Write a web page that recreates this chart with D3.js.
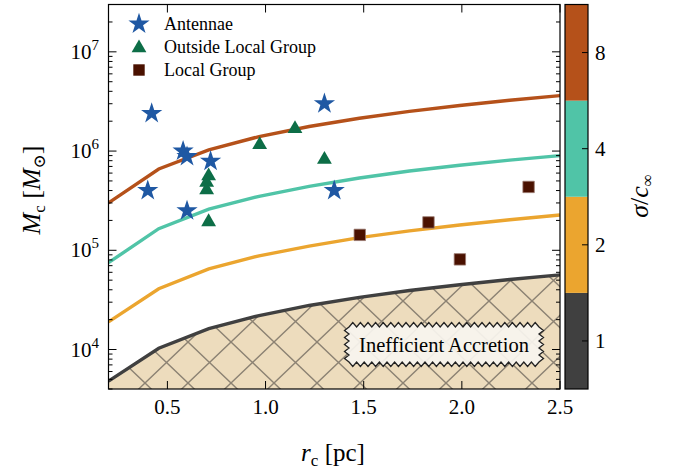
<!DOCTYPE html>
<html><head><meta charset="utf-8">
<script src="https://cdn.jsdelivr.net/npm/d3@7"></script>
<style>
body{margin:0;background:#fff;}
text{font-family:"Liberation Serif","DejaVu Serif",serif;fill:#000;}
</style></head>
<body><svg id="c" width="680" height="471"></svg>
<script>
// ---------- data ----------
const rGrid = [0.2, 0.456, 0.711, 0.967, 1.222, 1.478, 1.733, 1.989, 2.244, 2.5];
const sigmaLevels = [1, 2, 4, 8];
const curveS1 = [4.8e3, 1.03e4, 1.62e4, 2.2e4, 2.78e4, 3.35e4, 3.93e4, 4.5e4, 5.07e4, 5.65e4];
const curveS2 = [1.9e4, 4.1e4, 6.5e4, 8.8e4, 1.1e5, 1.34e5, 1.57e5, 1.8e5, 2.03e5, 2.27e5];
const curveS4 = [7.5e4, 1.65e5, 2.6e5, 3.5e5, 4.4e5, 5.35e5, 6.3e5, 7.2e5, 8.1e5, 9.0e5];
const curveS8 = [3.0e5, 6.6e5, 1.03e6, 1.40e6, 1.77e6, 2.14e6, 2.51e6, 2.88e6, 3.25e6, 3.62e6];
const antR = [0.42, 0.58, 0.60, 0.72, 0.40, 0.60, 1.30, 1.35];
const antM = [2.4e6, 1.0e6, 8.8e5, 7.9e5, 4.0e5, 2.5e5, 3.0e6, 4.0e5];
const olgR = [1.15, 0.97, 1.30, 0.71, 0.70, 0.70, 0.71];
const olgM = [1.74e6, 1.2e6, 8.5e5, 5.8e5, 5.0e5, 4.2e5, 2.0e5];
const lgR = [2.34, 1.83, 1.99, 1.48];
const lgM = [4.35e5, 1.91e5, 8.1e4, 1.43e5];
const xTicks = [0.5, 1.0, 1.5, 2.0, 2.5];
const yTicks = [1e4, 1e5, 1e6, 1e7];
const legendLabels = ["Antennae", "Outside Local Group", "Local Group"];
const regionLabel = "Inefficient Accretion";

// ---------- layout ----------
const svg = d3.select("#c");
const L = 108.5, R = 560, T = 4.5, B = 389;
const x = d3.scaleLinear().domain([0.2, 2.5]).range([L, R]);
const y = d3.scaleLog().domain([4e3, 3e7]).range([B, T]);
const colors = ["#404040", "#eba52f", "#50c4a7", "#b5511a"];
const curves = [curveS1, curveS2, curveS4, curveS8];

// hatch pattern
const defs = svg.append("defs");
const pw = 43, ph = 41;
const pat = defs.append("pattern").attr("id", "hx").attr("patternUnits", "userSpaceOnUse")
  .attr("x", 145).attr("y", 383).attr("width", pw).attr("height", ph);
pat.append("rect").attr("width", pw).attr("height", ph).attr("fill", "#eddcbd");
pat.append("path").attr("d", `M0,0L${pw},${ph}M0,${ph}L${pw},0`)
  .attr("stroke", "#8c8273").attr("stroke-width", 1.4).attr("fill", "none");
defs.append("clipPath").attr("id", "clip").append("rect")
  .attr("x", L).attr("y", T).attr("width", R - L).attr("height", B - T);

const g = svg.append("g").attr("clip-path", "url(#clip)");
const area = d3.area().x((d, i) => x(rGrid[i])).y0(B + 5).y1(d => y(d));
g.append("path").datum(curveS1).attr("d", area).attr("fill", "url(#hx)");

const line = d3.line().x((d, i) => x(rGrid[i])).y(d => y(d));
curves.forEach((c, k) => {
  g.append("path").datum(c).attr("d", line).attr("fill", "none")
    .attr("stroke", colors[k]).attr("stroke-width", 3.4);
});

// sawtooth label box
(function () {
  const x0 = 349, x1 = 539, y0 = 327, y1 = 362, p = 7.5, a = 4.5;
  let d = `M${x0},${y0}`;
  const nx = Math.round((x1 - x0) / p), ny = Math.round((y1 - y0) / p);
  const sx = (x1 - x0) / nx, sy = (y1 - y0) / ny;
  for (let i = 0; i < nx; i++) d += `L${x0 + (i + 0.5) * sx},${y0 - a}L${x0 + (i + 1) * sx},${y0}`;
  for (let i = 0; i < ny; i++) d += `L${x1 + a},${y0 + (i + 0.5) * sy}L${x1},${y0 + (i + 1) * sy}`;
  for (let i = 0; i < nx; i++) d += `L${x1 - (i + 0.5) * sx},${y1 + a}L${x1 - (i + 1) * sx},${y1}`;
  for (let i = 0; i < ny; i++) d += `L${x0 - a},${y1 - (i + 0.5) * sy}L${x0},${y1 - (i + 1) * sy}`;
  d += "Z";
  svg.append("path").attr("d", d).attr("fill", "#f8f4ee").attr("fill-opacity", 0.93)
    .attr("stroke", "#222").attr("stroke-width", 1.3);
  svg.append("text").attr("x", (x0 + x1) / 2).attr("y", 351.5).attr("text-anchor", "middle")
    .attr("font-size", 20.5).text(regionLabel);
})();

// markers
const star = d3.symbol().type(d3.symbolStar).size(140);
const tri = d3.symbol().type(d3.symbolTriangle).size(95);
const sq = d3.symbol().type(d3.symbolSquare).size(130);
const mk = svg.append("g");
antR.forEach((r, i) => mk.append("path").attr("d", star()).attr("fill", "#1f58a3")
  .attr("transform", `translate(${x(r)},${y(antM[i])})`));
olgR.forEach((r, i) => mk.append("path").attr("d", tri()).attr("fill", "#0d6e47")
  .attr("transform", `translate(${x(r)},${y(olgM[i]) + 1.5})`));
lgR.forEach((r, i) => mk.append("path").attr("d", sq()).attr("fill", "#4a1100")
  .attr("stroke", "#9a7a70").attr("stroke-width", 0.8)
  .attr("transform", `translate(${x(r)},${y(lgM[i])})`));

// axes frame
svg.append("rect").attr("x", L).attr("y", T).attr("width", R - L).attr("height", B - T)
  .attr("fill", "none").attr("stroke", "#000").attr("stroke-width", 1.2);

// ticks (inward) on all sides
const tk = svg.append("g").attr("stroke", "#000").attr("stroke-width", 1);
xTicks.forEach(v => {
  tk.append("line").attr("x1", x(v)).attr("x2", x(v)).attr("y1", B).attr("y2", B - 8);
  tk.append("line").attr("x1", x(v)).attr("x2", x(v)).attr("y1", T).attr("y2", T + 8);
});
const minor = [];
for (let e = 3; e <= 7; e++) for (let m = 2; m <= 9; m++) {
  const v = m * Math.pow(10, e);
  if (v >= 4e3 && v <= 3e7) minor.push(v);
}
yTicks.forEach(v => {
  tk.append("line").attr("x1", L).attr("x2", L + 8).attr("y1", y(v)).attr("y2", y(v));
  tk.append("line").attr("x1", R).attr("x2", R - 8).attr("y1", y(v)).attr("y2", y(v));
});
minor.forEach(v => {
  tk.append("line").attr("x1", L).attr("x2", L + 4).attr("y1", y(v)).attr("y2", y(v));
  tk.append("line").attr("x1", R).attr("x2", R - 4).attr("y1", y(v)).attr("y2", y(v));
});

// tick labels
xTicks.forEach(v => svg.append("text").attr("x", x(v)).attr("y", 414).attr("text-anchor", "middle")
  .attr("font-size", 21).text(d3.format(".1f")(v)));
yTicks.forEach(v => {
  const t = svg.append("text").attr("x", 99).attr("y", y(v) + 7).attr("text-anchor", "end")
    .attr("font-size", 21);
  t.append("tspan").text("10");
  t.append("tspan").attr("font-size", 15).attr("dy", -9).text(Math.round(Math.log10(v)));
});

// axis labels
const xl = svg.append("text").attr("x", 333).attr("y", 461).attr("text-anchor", "middle").attr("font-size", 25);
xl.append("tspan").attr("font-style", "italic").text("r");
xl.append("tspan").attr("font-size", 17).attr("dy", 5).text("c");
xl.append("tspan").attr("dy", -5).text(" [pc]");

const yl = svg.append("text").attr("transform", "translate(40,190) rotate(-90)")
  .attr("text-anchor", "middle").attr("font-size", 26);
yl.append("tspan").attr("font-style", "italic").text("M");
yl.append("tspan").attr("font-size", 17).attr("dy", 5).text("c");
yl.append("tspan").attr("dy", -5).text(" [");
yl.append("tspan").attr("font-style", "italic").text("M");
yl.append("tspan").attr("font-size", 17).attr("dy", 5).text("\u2299");
yl.append("tspan").attr("dy", -5).text("]");

// legend
const lg = svg.append("g");
const legSym = [star, tri, sq], legCol = ["#1f58a3", "#0d6e47", "#4a1100"];
legendLabels.forEach((s, i) => {
  const yy = 24 + i * 23;
  lg.append("path").attr("d", legSym[i]()).attr("fill", legCol[i])
    .attr("transform", `translate(139,${yy + (i === 1 ? 1 : 0)})`);
  lg.append("text").attr("x", 164).attr("y", yy + 6).attr("font-size", 18).text(s);
});

// colorbar
const cbL = 565, cbR = 588;
const cb = d3.scaleBand().domain(sigmaLevels.slice().reverse()).range([T, B]);
sigmaLevels.forEach((s, k) => {
  svg.append("rect").attr("x", cbL).attr("y", cb(s)).attr("width", cbR - cbL)
    .attr("height", cb.bandwidth()).attr("fill", colors[k]);
  svg.append("line").attr("x1", cbR).attr("x2", cbR - 6)
    .attr("y1", cb(s) + cb.bandwidth() / 2).attr("y2", cb(s) + cb.bandwidth() / 2)
    .attr("stroke", "#000").attr("stroke-width", 1);
  svg.append("text").attr("x", 595).attr("y", cb(s) + cb.bandwidth() / 2 + 7)
    .attr("font-size", 21).text(s);
});
svg.append("rect").attr("x", cbL).attr("y", T).attr("width", cbR - cbL).attr("height", B - T)
  .attr("fill", "none").attr("stroke", "#000").attr("stroke-width", 1.2);
const cl = svg.append("text").attr("transform", "translate(648,196) rotate(-90)")
  .attr("text-anchor", "middle").attr("font-size", 26);
cl.append("tspan").attr("font-style", "italic").text("\u03c3");
cl.append("tspan").text("/");
cl.append("tspan").attr("font-style", "italic").text("c");
cl.append("tspan").attr("font-size", 17).attr("dy", 5).text("\u221e");
</script></body></html>
